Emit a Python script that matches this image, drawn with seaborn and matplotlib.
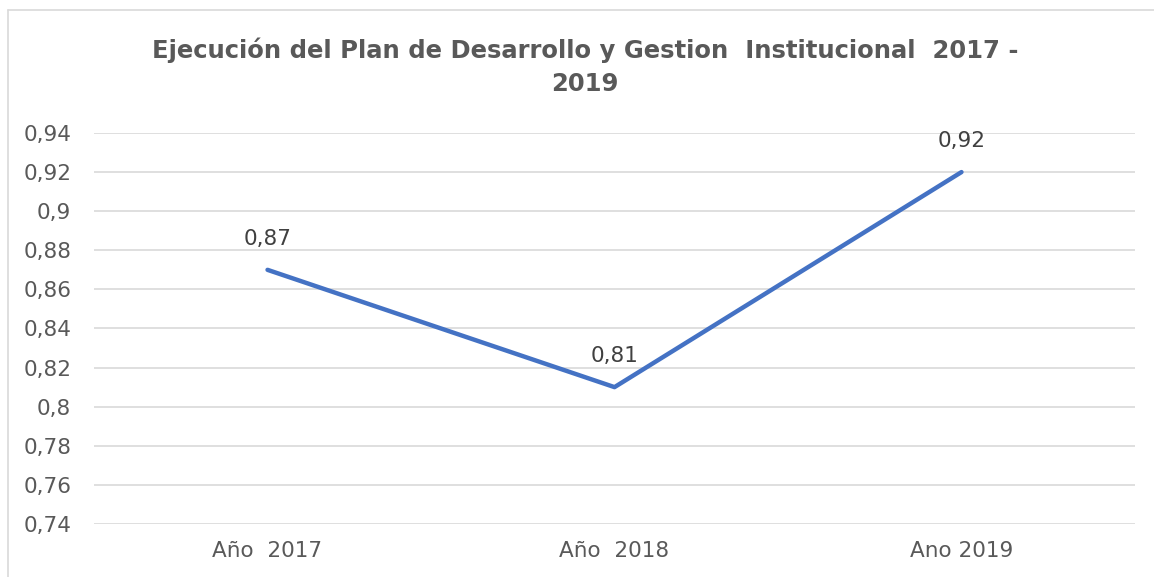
import matplotlib
matplotlib.use("Agg")
import matplotlib.pyplot as plt
import seaborn as sns
import pandas as pd
from matplotlib.lines import Line2D

categories = ["Año  2017", "Año  2018", "Ano 2019"]
values = [0.87, 0.81, 0.92]
ytick_values = [0.74, 0.76, 0.78, 0.80, 0.82, 0.84, 0.86, 0.88, 0.90, 0.92, 0.94]
ytick_labels = ["0,74", "0,76", "0,78", "0,8", "0,82", "0,84", "0,86", "0,88", "0,9", "0,92", "0,94"]
value_labels = ["0,87", "0,81", "0,92"]
title = "Ejecución del Plan de Desarrollo y Gestion  Institucional  2017 -\n2019"

sns.set_theme(style="white")
plt.rcParams["font.family"] = ["DejaVu Sans"]

text_color = "#595959"
fig = plt.figure(figsize=(11.54, 5.77), dpi=100)
ax = fig.add_axes([0.0815, 0.0919, 0.902, 0.6776])

df = pd.DataFrame({"cat": categories, "val": values})
df["x"] = range(len(categories))
sns.lineplot(data=df, x="x", y="val", ax=ax, color="#4472C4", linewidth=3.2,
             solid_capstyle="round")

ax.set_xlim(-0.5, len(categories) - 0.5)
ax.set_ylim(0.74, 0.94)
ax.set_yticks(ytick_values)
ax.set_yticklabels(ytick_labels)
ax.set_xticks(range(len(categories)))
ax.set_xticklabels(categories)
ax.set_xlabel("")
ax.set_ylabel("")
ax.tick_params(axis="both", length=0, labelsize=15.5, colors=text_color)
ax.tick_params(axis="y", pad=16.5)
ax.tick_params(axis="x", pad=12)
ax.grid(axis="y", color="#d9d9d9", linewidth=1.2)
ax.grid(axis="x", visible=False)
for s in ax.spines.values():
    s.set_visible(False)

for i, (v, lab) in enumerate(zip(values, value_labels)):
    ax.annotate(lab, (i, v), xytext=(0, 15), textcoords="offset points",
                ha="center", va="bottom", fontsize=15.5, color="#404040")

fig.text(585/1154, 1 - 50/577, title.split("\n")[0], ha="center", va="center",
         fontsize=17.5, fontweight="bold", color=text_color)
fig.text(585/1154, 1 - 84/577, title.split("\n")[1], ha="center", va="center",
         fontsize=17.5, fontweight="bold", color=text_color)

# chart frame (top and left edges visible)
fig.add_artist(Line2D([8/1154, 1.0], [1 - 10/577, 1 - 10/577], transform=fig.transFigure,
                      color="#d9d9d9", linewidth=1.2))
fig.add_artist(Line2D([8/1154, 8/1154], [0, 1 - 10/577], transform=fig.transFigure,
                      color="#d9d9d9", linewidth=1.2))

fig.savefig("out.png", dpi=100, facecolor="white")
